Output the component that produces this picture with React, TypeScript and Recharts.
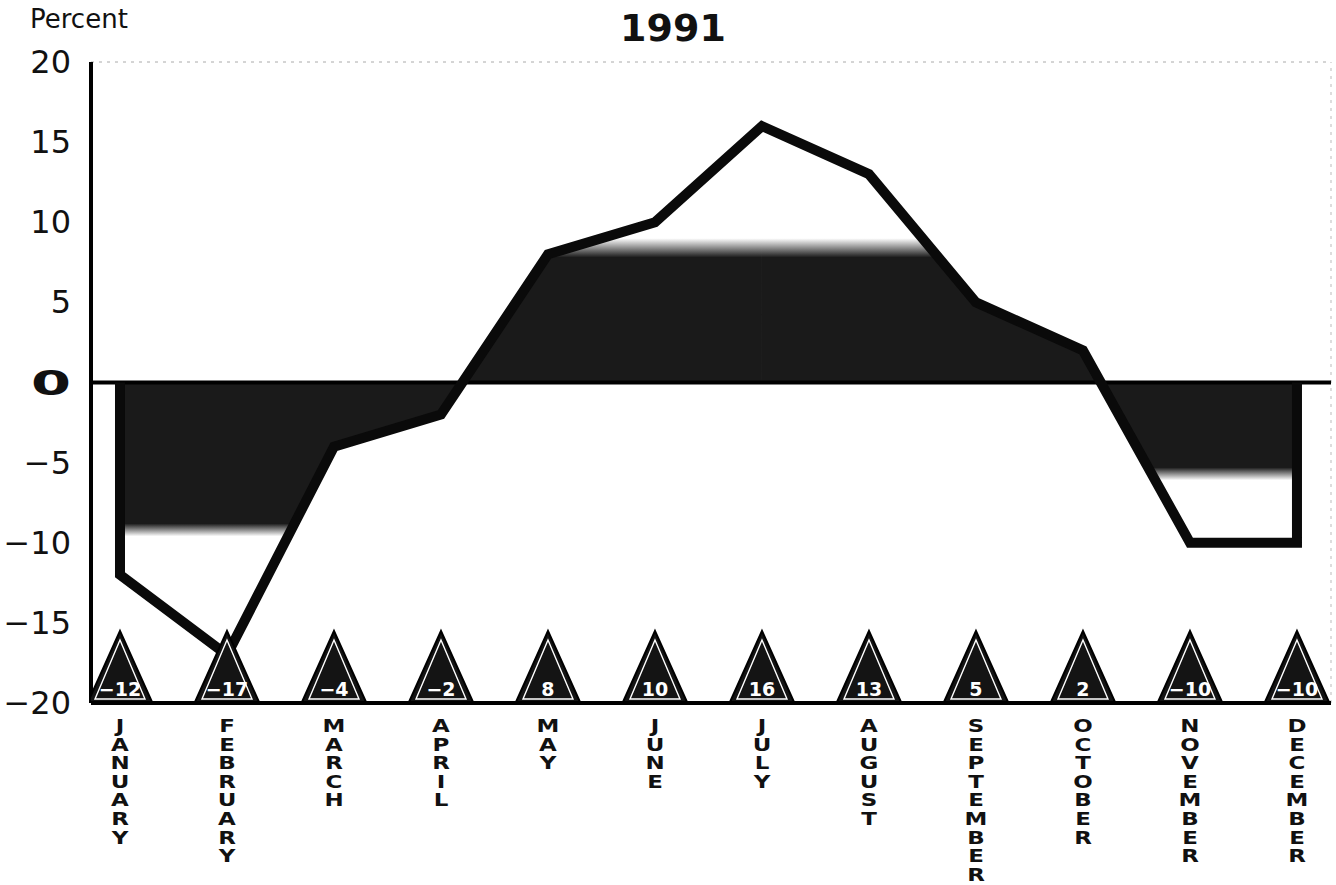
import React from 'react';
import { ComposedChart, Area, Line, Scatter, XAxis, YAxis, ReferenceLine } from 'recharts';

const months = ['JANUARY', 'FEBRUARY', 'MARCH', 'APRIL', 'MAY', 'JUNE', 'JULY', 'AUGUST', 'SEPTEMBER', 'OCTOBER', 'NOVEMBER', 'DECEMBER'];
const values = [-12, -17, -4, -2, 8, 10, 16, 13, 5, 2, -10, -10];
const yTicks = [-20, -15, -10, -5, 0, 5, 10, 15, 20];
const xTicks = months.map((_, i) => i);

const W = 1336;
const H = 885;
const SPLIT = 6; // the shaded area is drawn in two halves, split at July

const lineData = [
  { x: 0, v: 0 },
  ...values.map((v, i) => ({ x: i, v })),
  { x: values.length - 1, v: 0 },
];
const areaA = lineData.filter((d, k) => d.x <= SPLIT && k !== lineData.length - 1);
const areaB = lineData.filter((d, k) => d.x >= SPLIT && k !== 0);
const triData = values.map((v, i) => ({ x: i, y: -20, v }));

const fmt = (v: number) => (v < 0 ? '\u2212' + Math.abs(v) : String(v));

function makeStops(data: { v: number }[], top: number, bottom: number) {
  const vs = data.map((d) => d.v);
  const mx = Math.max(...vs, 0);
  const mn = Math.min(...vs, 0);
  const off = (v: number) => Math.min(1, Math.max(0, (mx - v) / (mx - mn)));
  return [
    { o: 0, a: 0 },
    { o: off(top + 1.2), a: 0 },
    { o: off(top), a: 1 },
    { o: off(bottom), a: 1 },
    { o: off(bottom - 0.8), a: 0 },
    { o: 1, a: 0 },
  ];
}
const stopsA = makeStops(areaA, 7.8, -8.8);
const stopsB = makeStops(areaB, 7.8, -5.3);

function MonthTick(props: any) {
  const { x, y, payload } = props;
  const name = months[payload.value] || '';
  return (
    <g transform={`translate(${x},0) scale(1.35,1)`}>
      {name.split('').map((c, k) => (
        <text key={k} x={0} y={y + 29 + k * 18.6} textAnchor="middle" fontSize={17} fontWeight="bold" fill="#111" fontFamily="DejaVu Sans">
          {c}
        </text>
      ))}
    </g>
  );
}

function YTick(props: any) {
  const { x, y, payload } = props;
  const v = payload.value;
  if (v === 0) {
    return (
      <text x={x} y={y + 12} textAnchor="end" fontSize={34} fontWeight={900} fill="#111" fontFamily="DejaVu Sans" textLength={40} lengthAdjust="spacingAndGlyphs">
        0
      </text>
    );
  }
  return (
    <text x={x} y={y + 11} textAnchor="end" fontSize={32} fill="#111" fontFamily="DejaVu Sans">
      {fmt(v)}
    </text>
  );
}

function Tri(props: any) {
  const { cx, cy, payload } = props;
  const h = 71;
  const w = 32;
  const b = cy - 1;
  return (
    <g>
      <polygon points={`${cx},${b - h} ${cx - w},${b} ${cx + w},${b}`} fill="#141414" stroke="#000" strokeWidth={2} />
      <polygon points={`${cx},${b - h + 9} ${cx - w + 7},${b - 3} ${cx + w - 7},${b - 3}`} fill="none" stroke="#fff" strokeWidth={1.4} />
      <text x={cx} y={b - 6} textAnchor="middle" fontSize={19} fontWeight="bold" fill="#fff" fontFamily="DejaVu Sans">
        {fmt(payload.v)}
      </text>
    </g>
  );
}

export default function App() {
  return (
    <div style={{ position: 'absolute', left: 0, top: 0, width: W, height: H, background: '#fff' }}>
      <ComposedChart width={W} height={H} margin={{ top: 62, right: 5, bottom: 152, left: 0 }}>
        <defs>
          <linearGradient id="shadeA" x1="0" y1="0" x2="0" y2="1">
            {stopsA.map((s, k) => (
              <stop key={k} offset={s.o} stopColor="#1a1a1a" stopOpacity={s.a} />
            ))}
          </linearGradient>
          <linearGradient id="shadeB" x1="0" y1="0" x2="0" y2="1">
            {stopsB.map((s, k) => (
              <stop key={k} offset={s.o} stopColor="#1a1a1a" stopOpacity={s.a} />
            ))}
          </linearGradient>
        </defs>
        <XAxis
          dataKey="x"
          type="number"
          domain={[-0.271, 11.318]}
          allowDataOverflow
          ticks={xTicks}
          interval={0}
          height={30}
          tick={<MonthTick />}
          tickLine={false}
          tickSize={0}
          tickMargin={0}
          axisLine={{ stroke: '#000', strokeWidth: 4 }}
        />
        <YAxis
          type="number"
          domain={[-20, 20]}
          ticks={yTicks}
          interval={0}
          width={91}
          tick={<YTick />}
          tickLine={false}
          tickSize={0}
          tickMargin={20}
          axisLine={{ stroke: '#000', strokeWidth: 4 }}
        />
        <ReferenceLine y={20} stroke="#aaa" strokeDasharray="3 5" strokeWidth={1} />
        <ReferenceLine x={11.318} stroke="#bbb" strokeDasharray="3 5" strokeWidth={1} />
        <Area data={areaA} dataKey="v" type="linear" baseValue={0} fill="url(#shadeA)" fillOpacity={1} stroke="none" isAnimationActive={false} dot={false} activeDot={false} />
        <Area data={areaB} dataKey="v" type="linear" baseValue={0} fill="url(#shadeB)" fillOpacity={1} stroke="none" isAnimationActive={false} dot={false} activeDot={false} />
        <ReferenceLine y={0} stroke="#000" strokeWidth={4} />
        <Scatter data={triData} dataKey="y" shape={<Tri />} isAnimationActive={false} />
        <Line data={lineData} dataKey="v" type="linear" stroke="#0a0a0a" strokeWidth={10} strokeLinejoin="miter" dot={false} activeDot={false} isAnimationActive={false} />
      </ComposedChart>
      <svg width={W} height={90} style={{ position: 'absolute', left: 0, top: 0, pointerEvents: 'none' }}>
        <text x={30} y={28} fontSize={26} fill="#111" fontFamily="DejaVu Sans">Percent</text>
        <text x={673} y={41} textAnchor="middle" fontSize={38} fontWeight="bold" fill="#111" fontFamily="DejaVu Sans">1991</text>
      </svg>
    </div>
  );
}
